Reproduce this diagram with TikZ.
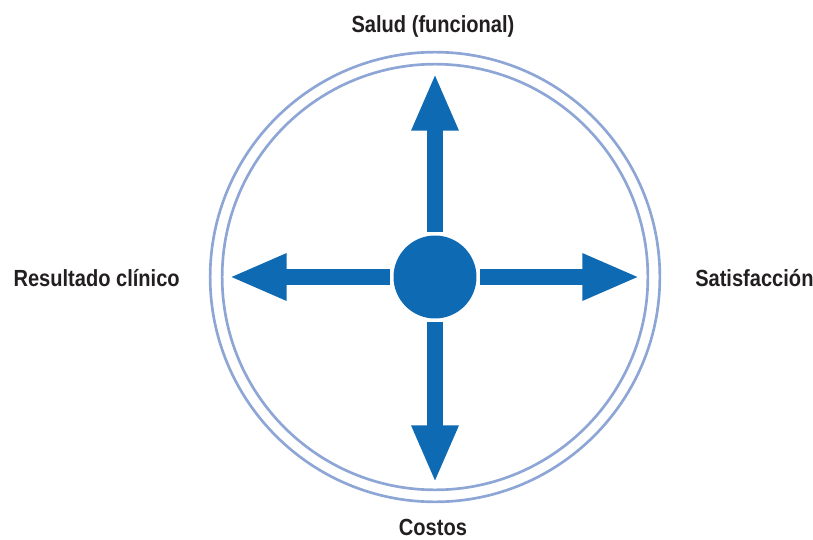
\documentclass[tikz,border=0pt]{standalone}
\usepackage{fontspec}
\setmainfont{Liberation Sans}
\usetikzlibrary{arrows.meta}

\definecolor{ringblue}{HTML}{8EA6D6}
\definecolor{flowblue}{HTML}{0F6AB4}
\definecolor{labelgray}{HTML}{231F20}

\begin{document}
\begin{tikzpicture}[x=0.025cm,y=-0.025cm,
	ring/.style={draw=ringblue, line width=1.9pt},
	flow/.style={draw=flowblue, line width=10.7pt, -{Triangle[length=41pt,width=30.6pt]}},
	dimlabel/.style={font=\bfseries\fontsize{16.6}{18}\selectfont, text=labelgray, inner sep=0pt, xscale=0.86}]
	\useasboundingbox (0,0) rectangle (813,539);

	% Draw double ring
	\coordinate (mid) at (435,277);
	\draw[ring] (mid) circle (5.62cm);
	\draw[ring] (mid) circle (5.32cm);

	% Draw hub and arrow ends
	\node[circle, fill=flowblue, minimum size=59pt, inner sep=0pt, outer sep=2.8pt] (hub) at (mid) {};
	\coordinate (tipN) at (435,73);
	\coordinate (tipS) at (435,483);
	\coordinate (tipW) at (229,277);
	\coordinate (tipE) at (640,277);

	% Arrows
	\draw[flow] (hub) -- (tipN);
	\draw[flow] (hub) -- (tipS);
	\draw[flow] (hub) -- (tipW);
	\draw[flow] (hub) -- (tipE);

	% Labels
	\node[dimlabel, anchor=base] (salud) at (433,32) {Salud (funcional)};
	\node[dimlabel, anchor=base east] (clinico) at (180,286) {Resultado clínico};
	\node[dimlabel, anchor=base west] (satis) at (695,286) {Satisfacción};
	\node[dimlabel, anchor=base] (costos) at (433,535) {Costos};
\end{tikzpicture}
\end{document}
